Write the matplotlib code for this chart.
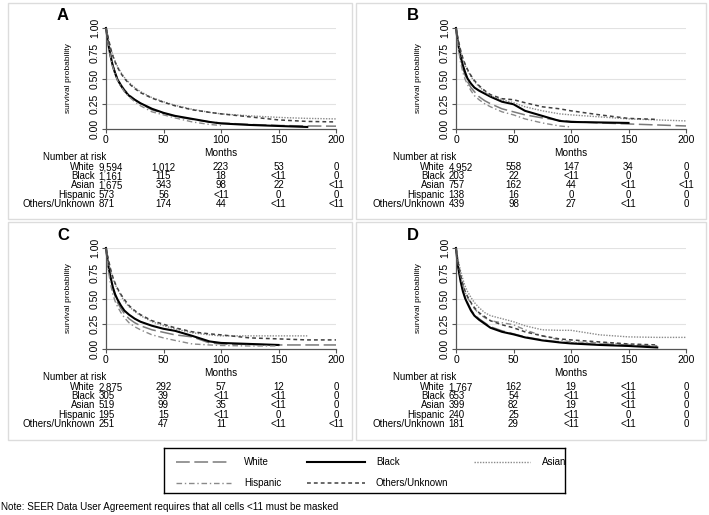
import numpy as np
import matplotlib
matplotlib.use("Agg")
import matplotlib.pyplot as plt
import matplotlib.transforms as mtrans
from matplotlib.patches import Rectangle
from matplotlib.lines import Line2D

plt.rcParams['font.family'] = ['Liberation Sans Narrow', 'Liberation Sans', 'DejaVu Sans']

nan = np.nan
# common time grid (months)
T = [0, 1, 2, 4, 6, 8, 10, 13, 16, 20, 25, 30, 40, 50, 60, 75, 90, 100, 125, 150, 175, 200]

groups = ["White", "Black", "Asian", "Hispanic", "Others/Unknown"]

# Panel A survival
A_white = [1, .92, .85, .73, .63, .56, .50, .44, .39, .34, .29, .25, .19, .155, .125, .095, .07, .06, .045, .035, .03, .028]
A_black = [1, .92, .84, .72, .62, .55, .49, .43, .38, .33, .29, .255, .20, .16, .13, .10, .07, .055, .04, .03, .02, nan]
A_asian = [1, .95, .90, .80, .73, .67, .62, .56, .51, .46, .41, .37, .31, .27, .235, .195, .165, .15, .13, .115, .105, .10]
A_hisp = [1, .91, .83, .71, .61, .54, .48, .42, .37, .32, .27, .23, .17, .14, .11, .07, .045, .035, nan, nan, nan, nan]
A_other = [1, .95, .90, .80, .72, .66, .61, .55, .50, .45, .40, .36, .305, .265, .23, .19, .165, .15, .12, .09, .075, .07]

# Panel B survival
B_white = [1, .90, .82, .69, .60, .53, .47, .41, .37, .32, .28, .25, .20, .17, .14, .11, .085, .075, .06, .05, .04, .03]
B_black = [1, .91, .84, .72, .63, .56, .50, .45, .41, .38, .35, .32, .27, .245, .18, .13, .08, .07, .065, .06, nan, nan]
B_asian = [1, .93, .87, .77, .69, .63, .58, .52, .47, .42, .37, .33, .29, .26, .22, .18, .15, .14, .12, .10, .09, .08]
B_hisp = [1, .89, .80, .66, .56, .49, .44, .38, .33, .29, .25, .22, .17, .14, .10, .06, .03, .02, nan, nan, nan, nan]
B_other = [1, .94, .88, .78, .70, .64, .59, .53, .48, .43, .38, .34, .30, .29, .26, .22, .20, .18, .14, .105, .095, nan]

# Panel C survival
C_white = [1, .90, .82, .69, .59, .52, .46, .40, .35, .30, .26, .23, .19, .165, .14, .12, .06, .05, .045, .04, .04, .04]
C_black = [1, .91, .83, .71, .61, .54, .49, .43, .38, .34, .30, .27, .23, .20, .18, .13, .075, .06, .05, .04, nan, nan]
C_asian = [1, .94, .88, .78, .70, .64, .59, .53, .47, .42, .37, .33, .27, .23, .20, .16, .14, .13, .13, .13, .13, nan]
C_hisp = [1, .88, .78, .64, .54, .47, .42, .36, .31, .26, .22, .19, .14, .11, .085, .05, .04, .035, .03, .03, nan, nan]
C_other = [1, .94, .89, .79, .71, .65, .60, .54, .49, .43, .38, .34, .28, .245, .21, .17, .15, .14, .11, .10, .09, .09]

# Panel D survival
D_white = [1, .90, .81, .68, .58, .51, .46, .39, .34, .30, .26, .22, .18, .15, .12, .09, .07, .06, .05, .04, .03, nan]
D_black = [1, .89, .80, .67, .57, .50, .45, .38, .33, .29, .25, .21, .17, .145, .115, .085, .065, .055, .04, .03, .015, nan]
D_asian = [1, .93, .87, .77, .69, .62, .57, .51, .46, .41, .36, .33, .30, .27, .23, .19, .185, .185, .14, .12, .115, .115]
D_hisp = [1, .92, .84, .72, .63, .56, .51, .45, .40, .35, .31, .28, .26, .24, .19, .13, .09, .07, .06, .05, nan, nan]
D_other = [1, .92, .85, .73, .64, .57, .52, .46, .41, .36, .32, .28, .24, .21, .17, .13, .10, .09, .07, .05, .04, nan]

# Numbers at risk (columns at 0, 50, 100, 150, 200 months)
risk_cols = [0, 50, 100, 150, 200]
A_risk = [["9,594", "1,012", "223", "53", "0"],
          ["1,161", "115", "18", "<11", "0"],
          ["1,675", "343", "98", "22", "<11"],
          ["573", "56", "<11", "0", "0"],
          ["871", "174", "44", "<11", "<11"]]
B_risk = [["4,952", "558", "147", "34", "0"],
          ["203", "22", "<11", "0", "0"],
          ["757", "162", "44", "<11", "<11"],
          ["138", "16", "0", "0", "0"],
          ["439", "98", "27", "<11", "0"]]
C_risk = [["2,875", "292", "57", "12", "0"],
          ["305", "39", "<11", "<11", "0"],
          ["519", "99", "35", "<11", "0"],
          ["195", "15", "<11", "0", "0"],
          ["251", "47", "11", "<11", "<11"]]
D_risk = [["1,767", "162", "19", "<11", "0"],
          ["653", "54", "<11", "<11", "0"],
          ["399", "82", "19", "<11", "0"],
          ["240", "25", "<11", "0", "0"],
          ["181", "29", "<11", "<11", "0"]]

panels = [("A", [A_white, A_black, A_asian, A_hisp, A_other], A_risk),
          ("B", [B_white, B_black, B_asian, B_hisp, B_other], B_risk),
          ("C", [C_white, C_black, C_asian, C_hisp, C_other], C_risk),
          ("D", [D_white, D_black, D_asian, D_hisp, D_other], D_risk)]

styles = [dict(color="#7a7a7a", lw=1.1, ls=(0, (9, 3))),
          dict(color="black", lw=1.5, ls="-"),
          dict(color="#8a8a8a", lw=1.0, ls=(0, (1, 1))),
          dict(color="#8a8a8a", lw=1.0, ls=(0, (4, 2, 1, 2))),
          dict(color="#404040", lw=1.1, ls=(0, (2.5, 2)))]

W, H = 709, 515
fig = plt.figure(figsize=(W / 100, H / 100), dpi=100)

def fx(x):
    return x / W

def fy(y):
    return 1 - y / H

# panel frame boxes
boxes = [(8, 3, 344, 216), (356, 3, 350, 216), (8, 222, 344, 218), (356, 222, 350, 218)]
for (bx, by, bw, bh) in boxes:
    fig.patches.append(Rectangle((fx(bx), fy(by + bh)), bw / W, bh / H, transform=fig.transFigure,
                                 fill=False, edgecolor="#dcdcdc", lw=1.0))

FS = 7.0
offsets = [(0, 0), (350, 0), (0, 220), (350, 220)]
for (letter, curves, risk), (dx, dy) in zip(panels, offsets):
    left, right, top, bot = 106 + dx, 336 + dx, 28 + dy, 129 + dy
    ax = fig.add_axes([fx(left), fy(bot), (right - left) / W, (bot - top) / H])
    ax.set_xlim(0, 200)
    ax.set_ylim(0, 1)
    for s in ("top", "right"):
        ax.spines[s].set_visible(False)
    for s in ("left", "bottom"):
        ax.spines[s].set_color("#555555")
        ax.spines[s].set_linewidth(0.9)
    ax.set_xticks([0, 50, 100, 150, 200])
    ax.set_yticks([0, .25, .5, .75, 1.0])
    ax.set_yticklabels(["0.00", "0.25", "0.50", "0.75", "1.00"], rotation=90, va="center")
    ax.tick_params(axis="both", labelsize=7.5, length=3, width=0.8, color="#555555", pad=1.5)
    for g in (.25, .5, .75, 1.0):
        ax.axhline(g, color="#e2e2e2", lw=0.8, zorder=0)
    ax.set_ylabel("survival probability", fontsize=6, labelpad=13)
    for vals, st in zip(curves, styles):
        ax.plot(T, vals, clip_on=False, **st)
    fig.text(fx(63 + dx), fy(15 + dy), letter, fontsize=12, fontweight="bold",
             family=["Liberation Sans", "DejaVu Sans"], ha="center", va="center")
    tr = mtrans.blended_transform_factory(ax.transData, fig.transFigure)
    fig.text(fx(221 + dx), fy(153 + dy), "Months", fontsize=7.2, ha="center", va="center")
    fig.text(fx(43 + dx), fy(157 + dy), "Number at risk", fontsize=FS, ha="left", va="center")
    for i, (g, row) in enumerate(zip(groups, risk)):
        yy = fy(167 + dy + i * 9.2)
        fig.text(fx(95 + dx), yy, g, fontsize=FS, ha="right", va="center")
        for j, (c, v) in enumerate(zip(risk_cols, row)):
            if j == 0:
                fig.text(fx(98.5 + dx), yy, v, fontsize=FS, ha="left", va="center")
            else:
                ax.text(c, yy, v, fontsize=FS, ha="center", va="center", transform=tr)

# legend box
lx0, ly0, lw_, lh_ = 164, 448, 401, 45
lax = fig.add_axes([fx(lx0), fy(ly0 + lh_), lw_ / W, lh_ / H])
lax.set_xlim(lx0, lx0 + lw_)
lax.set_ylim(ly0 + lh_, ly0)
lax.set_xticks([])
lax.set_yticks([])
for s in lax.spines.values():
    s.set_linewidth(1.0)
    s.set_color("black")
leg_items = [(176, 231, 244, 462), (307, 365, 376, 462), (474, 530, 542, 462),
             (176, 231, 244, 483), (307, 365, 376, 483)]
for (x0, x1, tx, yy), g, st in zip(leg_items, groups, styles):
    lax.add_line(Line2D([x0, x1], [yy, yy], **st))
    lax.text(tx, yy, g, fontsize=7, ha="left", va="center", clip_on=True)

fig.text(fx(1), fy(507), "Note: SEER Data User Agreement requires that all cells <11 must be masked",
         fontsize=7.1, ha="left", va="center")

fig.savefig("out.png", dpi=100)
